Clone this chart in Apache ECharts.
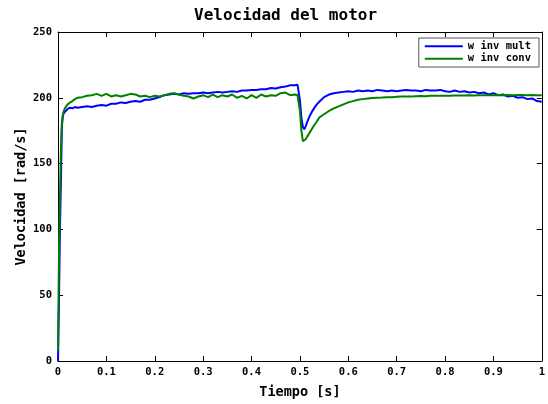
<!DOCTYPE html>
<html>
<head>
<meta charset="utf-8">
<script src="https://cdn.jsdelivr.net/npm/echarts@6/dist/echarts.min.js"></script>
<style>
html, body { margin: 0; padding: 0; background: #fff; }
#chart { width: 548px; height: 404px; }
</style>
</head>
<body>
<div id="chart"></div>
<script type="text/javascript">
// tiempo [s]
var tiempo = [
  0, 0.002, 0.004, 0.006, 0.008, 0.01, 0.012, 0.015, 0.02, 0.025, 0.03, 0.035, 0.04,
  0.05, 0.06, 0.07, 0.08, 0.09,
  0.10, 0.11, 0.12, 0.13, 0.14, 0.15, 0.16, 0.17, 0.18, 0.19,
  0.20, 0.21, 0.22, 0.23, 0.24, 0.25, 0.26, 0.27, 0.28, 0.29,
  0.30, 0.31, 0.32, 0.33, 0.34, 0.35, 0.36, 0.37, 0.38, 0.39,
  0.40, 0.41, 0.42, 0.43, 0.44, 0.45, 0.46, 0.47, 0.48, 0.49,
  0.495, 0.498, 0.5, 0.503, 0.506, 0.509, 0.512, 0.515, 0.52, 0.525, 0.53, 0.535,
  0.54, 0.55, 0.56, 0.57, 0.58, 0.59,
  0.60, 0.61, 0.62, 0.63, 0.64, 0.65, 0.66, 0.67, 0.68, 0.69,
  0.70, 0.71, 0.72, 0.73, 0.74, 0.75, 0.76, 0.77, 0.78, 0.79,
  0.80, 0.81, 0.82, 0.83, 0.84, 0.85, 0.86, 0.87, 0.88, 0.89,
  0.90, 0.91, 0.92, 0.93, 0.94, 0.95, 0.96, 0.97, 0.98, 0.99,
  1.00
];

// w inv mult [rad/s]
var wInvMult = [
  0, 45, 100, 135, 178, 186, 188.5, 190, 191.5, 192.5, 192, 193, 192.5,
  193, 193.5, 193, 194, 194.5,
  194, 195.5, 195.5, 196.5, 196, 197, 197.5, 197, 198.5, 198.5,
  199.5, 200.5, 202, 202.5, 203, 202.5, 203.5, 203, 203.5, 203.5,
  204, 203.5, 204, 204.5, 204, 204.5, 205, 204.5, 205.5, 205.5,
  206, 206, 206.5, 206.5, 207.5, 207, 208, 208.5, 209.5, 209.5,
  210, 209.5, 198, 185, 178, 176, 178.5, 181.5, 186, 189.5, 192.5, 195,
  197, 200.5, 202.5, 203.5, 204, 204.5,
  205, 204.5, 205.5, 205, 205.5, 205, 206, 205.5, 205, 205.5,
  205, 205.5, 206, 205.5, 205.5, 205, 206, 205.5, 205.5, 206,
  205, 204.5, 205.5, 204.5, 205, 204, 204.5, 203.5, 204, 202.5,
  203.5, 202, 202.5, 201, 201.5, 200, 200.5, 199, 199.5, 197.5,
  197
];

// w inv conv [rad/s]
var wInvConv = [
  8, 80, 125, 160, 181, 187, 190, 192.5, 195, 196.5, 197.5, 199, 200,
  200.5, 201.5, 202, 203, 201.5,
  203, 201, 202, 201, 202, 203, 202.5, 201, 201.5, 200.5,
  201.5, 201, 202, 203, 203.5, 202.5, 201.5, 201, 199.5, 201,
  202, 200.5, 202.5, 200.5, 202, 201, 202.5, 200, 201.5, 199.5,
  202, 200, 202.5, 201, 202, 201.5, 203.5, 204, 202, 202.5,
  202, 201.5, 190, 175, 167, 166.5, 168.5, 170.5, 173.5, 176.5, 179.5, 182,
  185, 187.5, 190, 192, 193.5, 195,
  196.5, 197.5, 198.5, 199, 199.5, 199.8, 200, 200.2, 200.5, 200.5,
  200.8, 201, 201, 201, 201.2, 201.3, 201.2, 201.5, 201.5, 201.5,
  201.6, 201.5, 201.8, 201.7, 201.8, 202, 201.8, 202, 202, 201.9,
  202, 202.1, 202, 202.2, 202, 202.1, 202.2, 202, 202.1, 202,
  202
];

var fuente = '"DejaVu Sans Mono", monospace';

function pares(ys) {
  var out = [];
  for (var i = 0; i < tiempo.length; i++) {
    out.push([tiempo[i], ys[i]]);
  }
  return out;
}

var myChart = echarts.init(document.getElementById('chart'));

var ejeX = {
  type: 'value', min: 0, max: 1, interval: 0.1,
  axisLine: { show: true, onZero: false, lineStyle: { color: '#000', width: 1 } },
  axisTick: { show: true, inside: true, length: 5, lineStyle: { color: '#000' } },
  splitLine: { show: false }
};
var ejeY = {
  type: 'value', min: 0, max: 250, interval: 50,
  axisLine: { show: true, onZero: false, lineStyle: { color: '#000', width: 1 } },
  axisTick: { show: true, inside: true, length: 5, lineStyle: { color: '#000' } },
  splitLine: { show: false }
};

var option = {
  animation: false,
  backgroundColor: '#fff',
  title: {
    text: 'Velocidad del motor',
    left: 194, top: 8, padding: 0,
    textStyle: { fontFamily: fuente, fontWeight: 'bold', fontSize: 16, color: '#000' }
  },
  legend: {
    orient: 'vertical',
    right: 9, top: 38,
    backgroundColor: '#fff',
    borderColor: '#555', borderWidth: 1, borderRadius: 0,
    padding: [2, 8, 2, 6],
    icon: 'rect',
    itemWidth: 38, itemHeight: 2, itemGap: 0, itemTextGap: 3,
    textStyle: { fontFamily: fuente, fontWeight: 'bold', fontSize: 10.5, color: '#000', lineHeight: 12.5 },
    data: ['w inv mult', 'w inv conv']
  },
  grid: { left: 58, right: 5, top: 32, bottom: 41, containLabel: false },
  xAxis: [
    Object.assign({}, ejeX, {
      position: 'bottom',
      name: 'Tiempo [s]', nameLocation: 'middle', nameGap: 24, nameMoveOverlap: false,
      nameTextStyle: { fontFamily: fuente, fontWeight: 'bold', fontSize: 13.5, color: '#000' },
      axisLabel: { fontFamily: fuente, fontWeight: 'bold', fontSize: 10.5, color: '#000', margin: 6 }
    }),
    Object.assign({}, ejeX, { position: 'top', axisLabel: { show: false } })
  ],
  yAxis: [
    Object.assign({}, ejeY, {
      position: 'left',
      name: 'Velocidad [rad/s]', nameLocation: 'middle', nameGap: 30, nameMoveOverlap: false,
      nameTextStyle: { fontFamily: fuente, fontWeight: 'bold', fontSize: 13.5, color: '#000' },
      axisLabel: { fontFamily: fuente, fontWeight: 'bold', fontSize: 10.5, color: '#000', margin: 6 }
    }),
    Object.assign({}, ejeY, { position: 'right', axisLabel: { show: false } })
  ],
  series: [
    {
      name: 'w inv mult', type: 'line', symbol: 'none',
      xAxisIndex: 0, yAxisIndex: 0,
      lineStyle: { color: '#0000ff', width: 2 },
      itemStyle: { color: '#0000ff' },
      data: pares(wInvMult)
    },
    {
      name: 'w inv conv', type: 'line', symbol: 'none',
      xAxisIndex: 0, yAxisIndex: 0,
      lineStyle: { color: '#008000', width: 2 },
      itemStyle: { color: '#008000' },
      data: pares(wInvConv)
    }
  ]
};

myChart.setOption(option);
</script>
</body>
</html>
